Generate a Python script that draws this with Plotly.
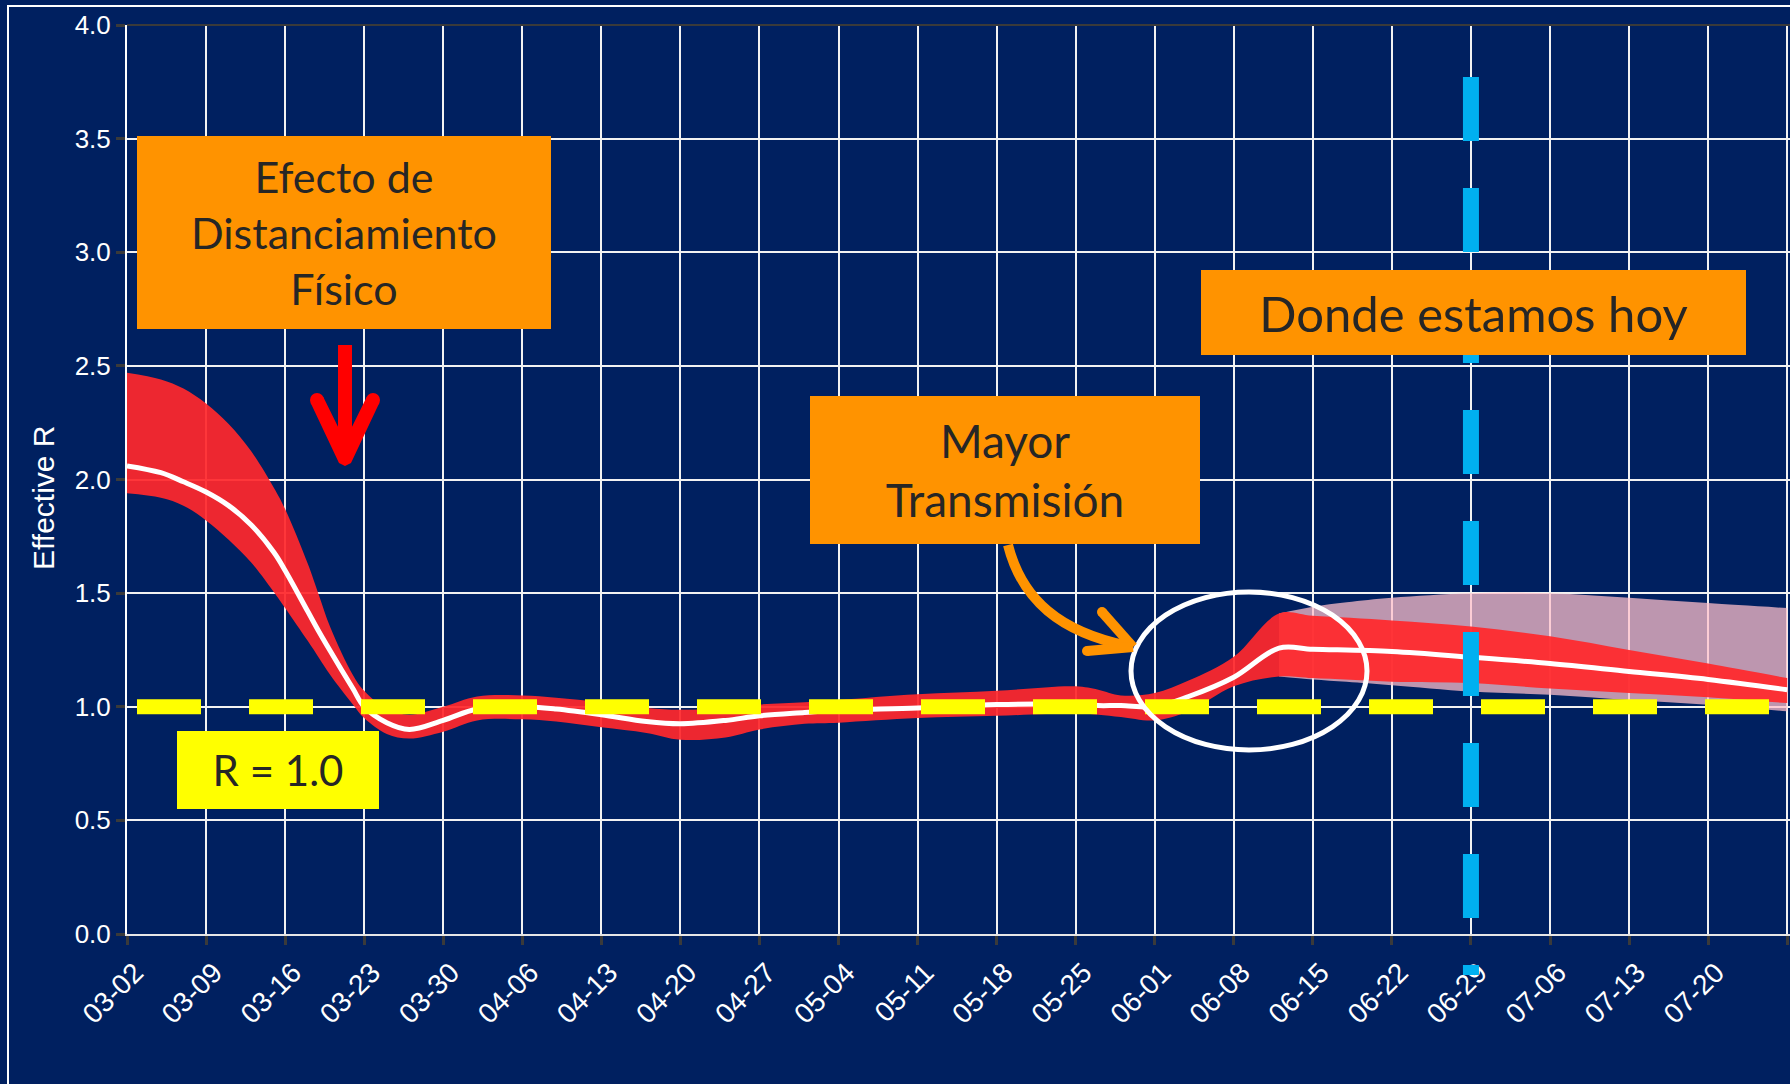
import plotly.graph_objects as go

# Effective R estimate (median + credible band)
DATES = [
    "2020-03-02", "2020-03-05", "2020-03-07", "2020-03-09", "2020-03-11", "2020-03-13",
    "2020-03-15", "2020-03-16", "2020-03-18", "2020-03-19", "2020-03-20", "2020-03-22",
    "2020-03-23", "2020-03-25", "2020-03-27", "2020-03-30", "2020-04-02", "2020-04-06",
    "2020-04-09", "2020-04-13", "2020-04-17", "2020-04-20", "2020-04-24", "2020-04-27",
    "2020-05-01", "2020-05-04", "2020-05-11", "2020-05-18", "2020-05-25", "2020-05-27",
    "2020-05-29", "2020-06-01", "2020-06-04", "2020-06-08", "2020-06-12", "2020-06-15",
    "2020-06-22", "2020-06-29", "2020-07-06", "2020-07-13", "2020-07-20", "2020-07-27",
]
R_MEDIAN = [
    2.06, 2.03, 1.99, 1.945, 1.885, 1.80, 1.68, 1.60, 1.42, 1.33, 1.245, 1.08,
    1.00, 0.93, 0.90, 0.94, 0.99, 1.00, 0.99, 0.965, 0.935, 0.925, 0.94, 0.96,
    0.975, 0.985, 0.995, 1.01, 1.01, 1.005, 1.005, 1.00, 1.045, 1.13, 1.258, 1.253,
    1.243, 1.218, 1.19, 1.155, 1.12, 1.075,
]
R_UPPER = [
    2.47, 2.44, 2.40, 2.334, 2.244, 2.124, 1.964, 1.87, 1.63, 1.49, 1.35, 1.14,
    1.07, 0.99, 0.965, 1.00, 1.045, 1.05, 1.04, 1.02, 0.995, 0.987, 0.995, 1.01,
    1.02, 1.03, 1.055, 1.07, 1.09, 1.075, 1.05, 1.06, 1.115, 1.22, 1.41, 1.40,
    1.38, 1.353, 1.31, 1.25, 1.19, 1.126,
]
R_LOWER = [
    1.94, 1.92, 1.885, 1.82, 1.735, 1.635, 1.505, 1.435, 1.29, 1.215, 1.14, 1.01,
    0.95, 0.88, 0.86, 0.89, 0.94, 0.945, 0.935, 0.91, 0.885, 0.855, 0.865, 0.90,
    0.925, 0.93, 0.95, 0.96, 0.97, 0.965, 0.955, 0.94, 0.98, 1.09, 1.133, 1.126,
    1.11, 1.104, 1.08, 1.06, 1.042, 1.016,
]

# wider projection band
PROJ_DATES = ["2020-06-12", "2020-06-15", "2020-06-18", "2020-06-22", "2020-06-29",
              "2020-07-06", "2020-07-13", "2020-07-20", "2020-07-27"]
PROJ_UPPER = [1.41, 1.44, 1.46, 1.48, 1.50, 1.50, 1.48, 1.456, 1.434]
PROJ_LOWER = [1.133, 1.12, 1.11, 1.095, 1.067, 1.053, 1.03, 1.009, 0.98]

R_THRESHOLD = 1.0
TODAY = "2020-06-29"

NAVY = "#002060"
ORANGE = "#FF9300"
TEXT_DARK = "#262626"
AXIS_FONT = "Liberation Sans"

W, H = 1790, 1084
ML, MR, MT, MB = 127, 0, 25, 150
PW, PH = W - ML - MR, H - MT - MB


def px(x):
    return (x - ML) / PW


def py(y):
    return (H - MB - y) / PH


def pt(x, y):
    return f"{px(x):.5f},{py(y):.5f}"


fig = go.Figure()

fig.add_trace(go.Scatter(x=PROJ_DATES, y=PROJ_UPPER, mode="lines", line=dict(width=0, shape="spline"),
                         showlegend=False, hoverinfo="skip"))
fig.add_trace(go.Scatter(x=PROJ_DATES, y=PROJ_LOWER, mode="lines", line=dict(width=0, shape="spline"),
                         fill="tonexty", fillcolor="rgba(255,192,203,0.74)", showlegend=False, hoverinfo="skip"))
fig.add_trace(go.Scatter(x=DATES, y=R_UPPER, mode="lines", line=dict(width=0, shape="spline", smoothing=1),
                         showlegend=False, hoverinfo="skip"))
fig.add_trace(go.Scatter(x=DATES, y=R_LOWER, mode="lines", line=dict(width=0, shape="spline", smoothing=1),
                         fill="tonexty", fillcolor="rgba(255,40,44,0.93)", showlegend=False, hoverinfo="skip"))
fig.add_trace(go.Scatter(x=DATES, y=R_MEDIAN, mode="lines", line=dict(color="white", width=5, shape="spline", smoothing=1),
                         showlegend=False, name="R"))

shapes = [
    # slide frame
    dict(type="rect", xref="paper", yref="paper", x0=px(8), y0=py(6), x1=px(1900), y1=py(1200),
         line=dict(color="white", width=2)),
    # top border of plot
    dict(type="line", xref="paper", yref="paper", x0=0, x1=1, y0=1, y1=1, line=dict(color="#3a3a3a", width=2)),
    # R = 1 threshold
    dict(type="line", xref="paper", yref="y", x0=px(137), x1=1, y0=R_THRESHOLD, y1=R_THRESHOLD,
         line=dict(color="#FFFF00", width=15, dash="64px,48px")),
    # today
    dict(type="line", xref="x", yref="paper", x0=TODAY, x1=TODAY, y0=py(77), y1=py(975),
         line=dict(color="#00B0F0", width=16, dash="64px,47px")),
    # ellipse highlight
    dict(type="circle", xref="paper", yref="paper", x0=px(1131), x1=px(1367), y0=py(750), y1=py(592),
         line=dict(color="white", width=5)),
    # red arrow
    dict(type="rect", xref="paper", yref="paper", x0=px(338), x1=px(352), y0=py(345), y1=py(445),
         fillcolor="#FF0000", line=dict(width=0)),
    dict(type="path", xref="paper", yref="paper",
         path="M " + " L ".join(pt(*p) for p in [(310.7, 403.1), (339, 463), (345, 466), (351, 463),
                                                  (379.3, 403.1), (366.7, 396.9), (345, 441), (323.3, 396.9)]) + " Z",
         fillcolor="#FF0000", line=dict(width=0)),
    dict(type="circle", xref="paper", yref="paper", x0=px(310), x1=px(324), y0=py(407), y1=py(393),
         fillcolor="#FF0000", line=dict(width=0)),
    dict(type="circle", xref="paper", yref="paper", x0=px(366), x1=px(380), y0=py(407), y1=py(393),
         fillcolor="#FF0000", line=dict(width=0)),
    # orange curved arrow
    dict(type="path", xref="paper", yref="paper",
         path=f"M {pt(1008, 545)} C {pt(1022, 600)} {pt(1060, 632)} {pt(1128, 646)}",
         line=dict(color=ORANGE, width=10)),
    dict(type="line", xref="paper", yref="paper", x0=px(1102), y0=py(612), x1=px(1133), y1=py(647),
         line=dict(color=ORANGE, width=10)),
    dict(type="line", xref="paper", yref="paper", x0=px(1087), y0=py(651), x1=px(1133), y1=py(647),
         line=dict(color=ORANGE, width=10)),
    dict(type="circle", xref="paper", yref="paper", x0=px(1097), x1=px(1107), y0=py(617), y1=py(607),
         fillcolor=ORANGE, line=dict(width=0)),
    dict(type="circle", xref="paper", yref="paper", x0=px(1082), x1=px(1092), y0=py(656), y1=py(646),
         fillcolor=ORANGE, line=dict(width=0)),
]


def box(text, x0, x1, y0, y1, color, size):
    return dict(text=text, xref="paper", yref="paper", x=px((x0 + x1) / 2), y=py((y0 + y1) / 2),
                xanchor="center", yanchor="middle", showarrow=False, width=x1 - x0, height=y1 - y0,
                bgcolor=color, borderpad=0, borderwidth=0, align="center", valign="middle",
                font=dict(family="Lato", size=size, color=TEXT_DARK))


annotations = [
    box("Efecto de<br>Distanciamiento<br>Físico", 137, 551, 136, 329, ORANGE, 43),
    box("Donde estamos hoy", 1201, 1746, 270, 355, ORANGE, 49),
    box("Mayor<br>Transmisión", 810, 1200, 396, 544, ORANGE, 46),
    box("R = 1.0", 177, 379, 731, 809, "#FFFF00", 42),
    # y axis title
    dict(text="Effective R", xref="paper", yref="paper", x=px(43), y=py(498), textangle=-90,
         xanchor="center", yanchor="middle", showarrow=False,
         font=dict(family=AXIS_FONT, size=30, color="white")),
]

fig.update_layout(
    width=W, height=H,
    margin=dict(l=ML, r=MR, t=MT, b=MB),
    paper_bgcolor=NAVY, plot_bgcolor=NAVY,
    font=dict(family=AXIS_FONT, color="white"),
    shapes=shapes, annotations=annotations,
    showlegend=False,
)
fig.update_xaxes(
    type="date", range=["2020-03-02", "2020-07-27 06:00"],
    tick0="2020-03-02", dtick=7 * 86400000, tickformat="%m-%d", tickangle=-45,
    tickfont=dict(family=AXIS_FONT, size=28, color="white"), ticklabelshift=8,
    showgrid=True, gridcolor="#f2f2f2", gridwidth=2,
    showline=True, linecolor="#e6e6e6", linewidth=2,
    ticks="outside", ticklen=9, tickwidth=3, tickcolor="#3a3a3a",
    zeroline=False,
)
fig.update_yaxes(
    range=[0, 4], dtick=0.5, tickformat=".1f",
    tickfont=dict(family=AXIS_FONT, size=26, color="white"),
    showgrid=True, gridcolor="#f2f2f2", gridwidth=2,
    showline=True, linecolor="white", linewidth=2,
    ticks="outside", ticklen=9, tickwidth=3, tickcolor="#3a3a3a",
    zeroline=False,
)

fig.write_html(
    "out.html", config={"displayModeBar": False},
    post_script="document.body.style.margin='0';"
                "document.body.style.overflow='hidden';"
                "document.documentElement.style.overflow='hidden';",
)
